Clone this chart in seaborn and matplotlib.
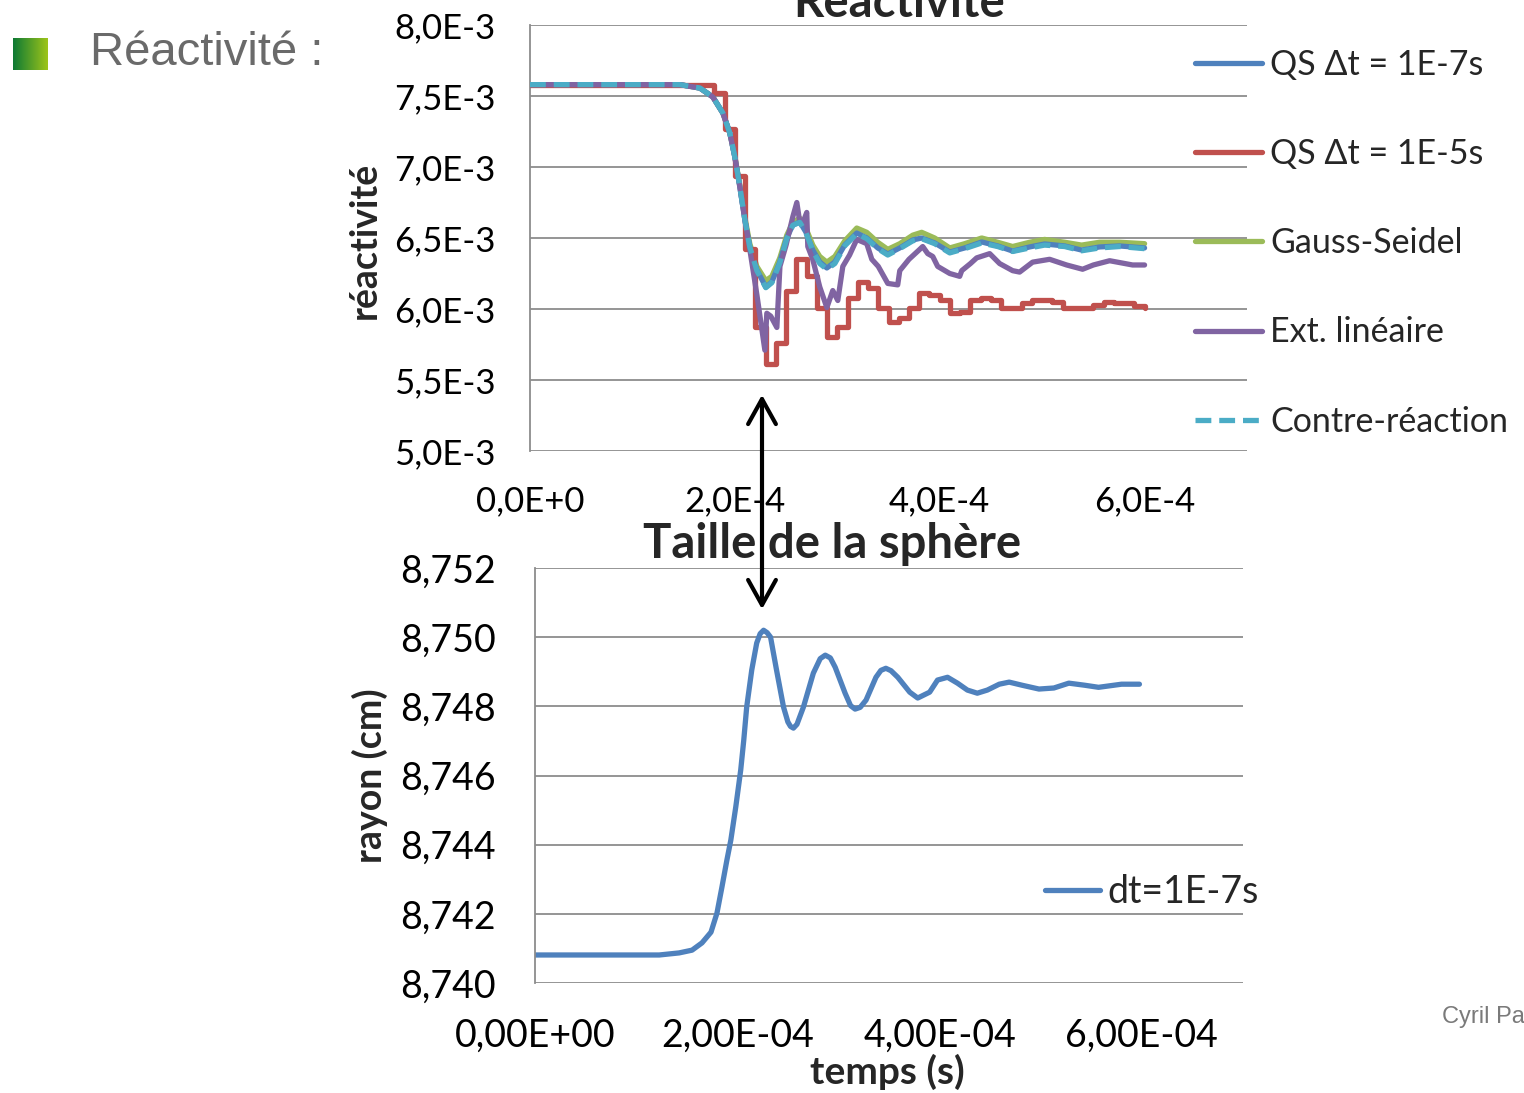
import numpy as np
import pandas as pd
import matplotlib
matplotlib.use("Agg")
import matplotlib.pyplot as plt
import seaborn as sns

# ---------------------------------------------------------
# DATA
# ---------------------------------------------------------

# reactivity curves: time in 1E-4 s, reactivity in 1E-3
t_smooth = [0, 1.463, 1.659, 1.785, 1.883, 1.951, 2.000, 2.049, 2.098, 2.146, 2.215,
            2.302, 2.361, 2.439, 2.507, 2.566, 2.634, 2.693, 2.761, 2.829, 2.898,
            2.976, 3.073, 3.190, 3.288, 3.395, 3.493, 3.610, 3.737, 3.824, 3.951,
            4.098, 4.244, 4.410, 4.566, 4.712, 4.878, 5.024, 5.220, 5.385, 5.561,
            5.756, 6.000]
rho_qs_fine = [7.580, 7.580, 7.556, 7.493, 7.380, 7.239, 7.070, 6.859, 6.627, 6.437, 6.275,
               6.155, 6.190, 6.331, 6.500, 6.592, 6.613, 6.542, 6.415, 6.331, 6.289,
               6.331, 6.451, 6.535, 6.500, 6.430, 6.387, 6.430, 6.486, 6.500, 6.465,
               6.401, 6.430, 6.472, 6.444, 6.408, 6.437, 6.458, 6.444, 6.415, 6.437,
               6.444, 6.430]
rho_gauss = [7.580, 7.580, 7.556, 7.493, 7.380, 7.239, 7.075, 6.870, 6.645, 6.460, 6.300,
             6.200, 6.230, 6.360, 6.520, 6.610, 6.640, 6.570, 6.450, 6.370, 6.330,
             6.370, 6.480, 6.570, 6.540, 6.470, 6.420, 6.460, 6.520, 6.540, 6.500,
             6.430, 6.460, 6.500, 6.470, 6.440, 6.470, 6.490, 6.470, 6.450, 6.470,
             6.470, 6.460]
rho_feedback = [7.580, 7.580, 7.556, 7.493, 7.380, 7.239, 7.070, 6.859, 6.627, 6.437, 6.270,
                6.150, 6.185, 6.325, 6.495, 6.590, 6.610, 6.540, 6.410, 6.320, 6.280,
                6.320, 6.445, 6.530, 6.495, 6.425, 6.380, 6.425, 6.480, 6.495, 6.460,
                6.395, 6.425, 6.465, 6.440, 6.405, 6.430, 6.450, 6.440, 6.410, 6.430,
                6.440, 6.425]

t_lin = [0, 1.463, 1.659, 1.785, 1.883, 1.951, 2.000, 2.049, 2.098, 2.146, 2.215, 2.293,
         2.312, 2.35, 2.41, 2.44, 2.50, 2.566, 2.605, 2.634, 2.66, 2.702, 2.712, 2.76,
         2.829, 2.898, 2.956, 3.005, 3.054, 3.12, 3.19, 3.288, 3.337, 3.40, 3.493, 3.59,
         3.61, 3.70, 3.805, 3.834, 3.883, 3.932, 3.98, 4.098, 4.195, 4.215, 4.30, 4.361,
         4.488, 4.585, 4.712, 4.78, 4.907, 5.073, 5.239, 5.395, 5.50, 5.659, 5.883, 6.0]
rho_lin = [7.580, 7.580, 7.556, 7.493, 7.380, 7.239, 7.070, 6.859, 6.627, 6.420, 6.10, 5.71,
           5.97, 5.95, 5.87, 6.30, 6.45, 6.65, 6.75, 6.61, 6.60, 6.68, 6.44, 6.35,
           6.155, 6.01, 6.13, 6.06, 6.30, 6.38, 6.49, 6.46, 6.35, 6.30, 6.18, 6.17,
           6.27, 6.35, 6.42, 6.44, 6.39, 6.37, 6.30, 6.25, 6.23, 6.27, 6.32, 6.36,
           6.39, 6.32, 6.27, 6.26, 6.33, 6.35, 6.31, 6.28, 6.31, 6.34, 6.31, 6.31]

# coarse quasi-static: one value per 1E-5 s step (k = 0..60)
rho_qs_coarse = [7.580] * 18 + [
    7.52, 7.27, 6.94, 6.42, 5.87, 5.61, 5.76, 6.13, 6.35, 6.23,
    6.01, 5.80, 5.87, 6.08, 6.19, 6.15, 6.01, 5.91, 5.94, 6.01,
    6.11, 6.10, 6.06, 5.97, 5.98, 6.06, 6.08, 6.06, 6.01, 6.01,
    6.04, 6.06, 6.06, 6.05, 6.01, 6.01, 6.01, 6.03, 6.05, 6.04,
    6.04, 6.02, 6.01]

# sphere radius: time in 1E-4 s, radius in cm
t_radius = [0, 1.032, 1.228, 1.425, 1.553, 1.651, 1.740, 1.799, 1.848, 1.897, 1.936,
            1.985, 2.034, 2.064, 2.093, 2.143, 2.192, 2.226, 2.260, 2.295, 2.329,
            2.388, 2.457, 2.500, 2.526, 2.555, 2.590, 2.654, 2.752, 2.820, 2.870,
            2.920, 2.968, 3.066, 3.120, 3.165, 3.215, 3.273, 3.371, 3.420, 3.469,
            3.520, 3.587, 3.705, 3.784, 3.902, 3.980, 4.079, 4.177, 4.275, 4.373,
            4.472, 4.590, 4.688, 4.816, 4.983, 5.130, 5.278, 5.435, 5.572, 5.799,
            5.976]
radius = [8.74081, 8.74081, 8.74081, 8.74087, 8.74095, 8.74116, 8.74147, 8.74202, 8.74277,
          8.74355, 8.74413, 8.74509, 8.74616, 8.74702, 8.74798, 8.74905, 8.74983, 8.75010,
          8.75020, 8.75013, 8.75000, 8.74905, 8.74798, 8.74755, 8.74742, 8.74737, 8.74748,
          8.74798, 8.74896, 8.74938, 8.74948, 8.74940, 8.74913, 8.74838, 8.74802, 8.74792,
          8.74797, 8.74818, 8.74884, 8.74904, 8.74910, 8.74903, 8.74884, 8.74841, 8.74824,
          8.74841, 8.74876, 8.74884, 8.74867, 8.74847, 8.74838, 8.74847, 8.74864, 8.74870,
          8.74861, 8.74850, 8.74853, 8.74867, 8.74861, 8.74855, 8.74864, 8.74864]

top_yticks = [5.0e-3, 5.5e-3, 6.0e-3, 6.5e-3, 7.0e-3, 7.5e-3, 8.0e-3]
top_ylabels = ["5,0E-3", "5,5E-3", "6,0E-3", "6,5E-3", "7,0E-3", "7,5E-3", "8,0E-3"]
top_xticks = [0, 2e-4, 4e-4, 6e-4]
top_xlabels = ["0,0E+0", "2,0E-4", "4,0E-4", "6,0E-4"]
bot_yticks = [8.740, 8.742, 8.744, 8.746, 8.748, 8.750, 8.752]
bot_ylabels = ["8,740", "8,742", "8,744", "8,746", "8,748", "8,750", "8,752"]
bot_xlabels = ["0,00E+00", "2,00E-04", "4,00E-04", "6,00E-04"]

series_names = ["QS \u0394t = 1E-7s", "QS \u0394t = 1E-5s", "Gauss-Seidel",
                "Ext. lin\u00e9aire", "Contre-r\u00e9action"]
colors = ["#4F81BD", "#C0504D", "#9BBB59", "#8064A2", "#4BACC6"]

# ---------------------------------------------------------
# FIGURE
# ---------------------------------------------------------
sns.set_style("white")
plt.rcParams["font.family"] = ["Lato", "DejaVu Sans"]

W, H = 1524, 1093
fig = plt.figure(figsize=(W / 100, H / 100), dpi=100)


def fx(px):
    return px / W


def fy(py):
    return 1 - py / H


ax1 = fig.add_axes([fx(530), fy(451), fx(1247) - fx(530), fy(25) - fy(451)])
ax2 = fig.add_axes([fx(535), fy(983), fx(1243) - fx(535), fy(568) - fy(983)])

LW = 3.8
ts = np.array(t_smooth) * 1e-4
tl = np.array(t_lin) * 1e-4
tc = np.arange(len(rho_qs_coarse)) * 1e-5

sns.lineplot(x=ts, y=np.array(rho_qs_fine) * 1e-3, ax=ax1, color=colors[0], lw=LW,
             estimator=None, sort=False, label=series_names[0], zorder=3)
sns.lineplot(x=tc, y=np.array(rho_qs_coarse) * 1e-3, ax=ax1, color=colors[1], lw=LW,
             estimator=None, sort=False, drawstyle="steps-post",
             label=series_names[1], zorder=3)
sns.lineplot(x=ts, y=np.array(rho_gauss) * 1e-3, ax=ax1, color=colors[2], lw=LW,
             estimator=None, sort=False, label=series_names[2], zorder=2)
sns.lineplot(x=tl, y=np.array(rho_lin) * 1e-3, ax=ax1, color=colors[3], lw=LW,
             estimator=None, sort=False, label=series_names[3], zorder=4)
sns.lineplot(x=ts, y=np.array(rho_feedback) * 1e-3, ax=ax1, color=colors[4], lw=LW,
             estimator=None, sort=False, linestyle=(0, (3, 1.5)),
             label=series_names[4], zorder=5)

sns.lineplot(x=np.array(t_radius) * 1e-4, y=radius, ax=ax2, color="#4F81BD", lw=LW,
             estimator=None, sort=False, label="dt=1E-7s")

for ax, yt, yl, xl, ypad, fs in [(ax1, top_yticks, top_ylabels, top_xlabels, 25, 25),
                                 (ax2, bot_yticks, bot_ylabels, bot_xlabels, 28, 27)]:
    ax.set_xlim(0, 7e-4)
    ax.set_ylim(yt[0], yt[-1])
    ax.set_yticks(yt, yl)
    ax.set_xticks(top_xticks, xl)
    ax.tick_params(axis="y", length=0, pad=ypad, labelsize=fs, colors="black")
    ax.tick_params(axis="x", length=0, pad=25, labelsize=fs, colors="black")
    ax.grid(axis="y", color="#8C8C8C", lw=1.3)
    ax.grid(axis="x", visible=False)
    for s in ["top", "right", "bottom"]:
        ax.spines[s].set_visible(False)
    ax.spines["left"].set_color("#8C8C8C")
    ax.spines["left"].set_linewidth(1.3)
    ax.set_xlabel("")
    ax.set_ylabel("")
    ax.set_facecolor("none")

h, l = ax1.get_legend_handles_labels()
ax1.legend(h, l, loc="upper left", bbox_to_anchor=(fx(1195), fy(49)),
           bbox_transform=fig.transFigure, frameon=False, fontsize=24.5,
           labelspacing=1.68, handlelength=1.97, handletextpad=0.24,
           borderpad=0, borderaxespad=0)
h2, l2 = ax2.get_legend_handles_labels()
ax2.legend(h2, l2, loc="center left", bbox_to_anchor=(fx(1045), fy(892)),
           bbox_transform=fig.transFigure, frameon=False, fontsize=27,
           handlelength=1.47, handletextpad=0.19, borderpad=0, borderaxespad=0)

# titles and axis labels
fig.text(fx(899), fy(17), "R\u00e9activit\u00e9", ha="center", va="baseline",
         fontsize=34, fontweight="bold")
fig.text(fx(832), fy(558), "Taille de la sph\u00e8re", ha="center", va="baseline",
         fontsize=34, fontweight="bold")
fig.text(fx(365), fy(240), "r\u00e9activit\u00e9", rotation=90, ha="center",
         va="center", fontsize=27, fontweight="bold")
fig.text(fx(370), fy(776), "rayon (cm)", rotation=90, ha="center",
         va="center", fontsize=27, fontweight="bold")
fig.text(fx(887), fy(1072), "temps (s)", ha="center", va="center",
         fontsize=28, fontweight="bold")

# slide decorations
fig.text(fx(90), fy(53), "R\u00e9activit\u00e9 :", ha="left", va="center",
         fontsize=34, color="#6A6A6A", family="Liberation Sans")
fig.text(fx(1442), fy(1017), "Cyril Pa", ha="left", va="center",
         fontsize=17, color="#7A7A7A", family="Liberation Sans")
sq = fig.add_axes([fx(13), fy(70), fx(48) - fx(13), fy(38) - fy(70)])
grad = np.linspace(0, 1, 64).reshape(1, -1)
cmap = matplotlib.colors.LinearSegmentedColormap.from_list("g", ["#0E7A34", "#9DC41A"])
sq.imshow(grad, aspect="auto", cmap=cmap)
sq.axis("off")

# double arrow linking the two plots
fig.add_artist(matplotlib.patches.FancyArrowPatch(
    (fx(762), fy(612)), (fx(762), fy(392)), transform=fig.transFigure,
    arrowstyle="<->,head_length=0.9,head_width=0.5", mutation_scale=20,
    color="black", lw=3))

fig.savefig("out.png", dpi=100)
